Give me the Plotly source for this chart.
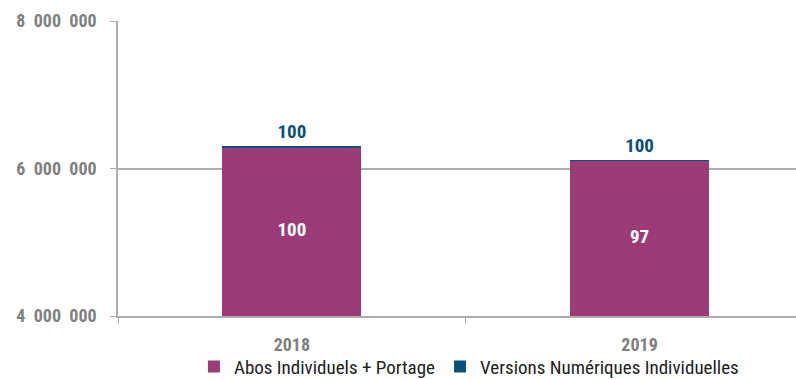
import plotly.graph_objects as go

years = ["2018", "2019"]
abos = [6286000, 6102000]
numeriques = [12000, 12000]
abos_labels = ["100", "97"]
num_labels = ["100", "100"]
ytick_vals = [4000000, 6000000, 8000000]
ytick_text = ["4\u00a0\u00a0000\u00a0\u00a0000", "6\u00a0\u00a0000\u00a0\u00a0000", "8\u00a0\u00a0000\u00a0\u00a0000"]
y_min, y_max = 4000000, 8000000

FONT = "Roboto Condensed, Liberation Sans Narrow, Arial Narrow, Roboto, sans-serif"
MAG = "#9B3B78"
BLUE = "#0B4F7D"
GRID = "#ADADAD"

fig = go.Figure()
fig.add_trace(go.Bar(
    x=years, y=abos, name="Abos Individuels + Portage",
    marker=dict(color=MAG, line=dict(width=0)),
    width=0.40,
))
fig.add_trace(go.Bar(
    x=years, y=numeriques, name="Versions Numériques Individuelles",
    marker=dict(color=BLUE, line=dict(width=0)),
    text=num_labels, textposition="outside", cliponaxis=False,
    textfont=dict(family=FONT, size=19, color=BLUE, weight="bold"),
    width=0.40,
))
# inside labels for the visible part of the magenta bars
fig.add_trace(go.Scatter(
    x=years, y=[(y_min + v) / 2 for v in abos], mode="text",
    text=abos_labels, textposition="middle center",
    textfont=dict(family=FONT, size=19, color="white", weight="bold"),
    showlegend=False, hoverinfo="skip",
))

fig.update_layout(
    barmode="stack",
    width=796, height=379,
    margin=dict(l=118, r=0, t=21, b=63, autoexpand=False),
    paper_bgcolor="white", plot_bgcolor="white",
    font=dict(family=FONT),
    legend=dict(
        orientation="h", x=0.112, xanchor="left", y=-0.236, yanchor="bottom",
        font=dict(family=FONT, size=19, color="#222222"),
        traceorder="normal", tracegroupgap=0,
        bgcolor="rgba(0,0,0,0)",
    ),
    showlegend=True,
)
fig.update_xaxes(
    type="category", range=[-0.5, 1.45], automargin=False,
    showline=True, linecolor=GRID, linewidth=1.5,
    ticks="outside", tickson="boundaries", ticklen=6, tickcolor=GRID,
    ticklabelstandoff=12,
    tickfont=dict(family=FONT, size=18, color="#808080", weight="bold"),
    showgrid=False,
)
fig.update_yaxes(
    range=[y_min, y_max], automargin=False,
    tickvals=ytick_vals, ticktext=ytick_text,
    showline=True, linecolor=GRID, linewidth=1.5,
    ticks="outside", ticklen=6, tickcolor=GRID,
    ticklabelstandoff=10,
    tickfont=dict(family=FONT, size=18, color="#808080", weight="bold"),
    showgrid=True, gridcolor=GRID, gridwidth=1.5,
    zeroline=False,
)

fig.write_html("out.html", config={"displayModeBar": False},
               post_script="document.body.style.margin='0';document.body.style.overflow='hidden';")
